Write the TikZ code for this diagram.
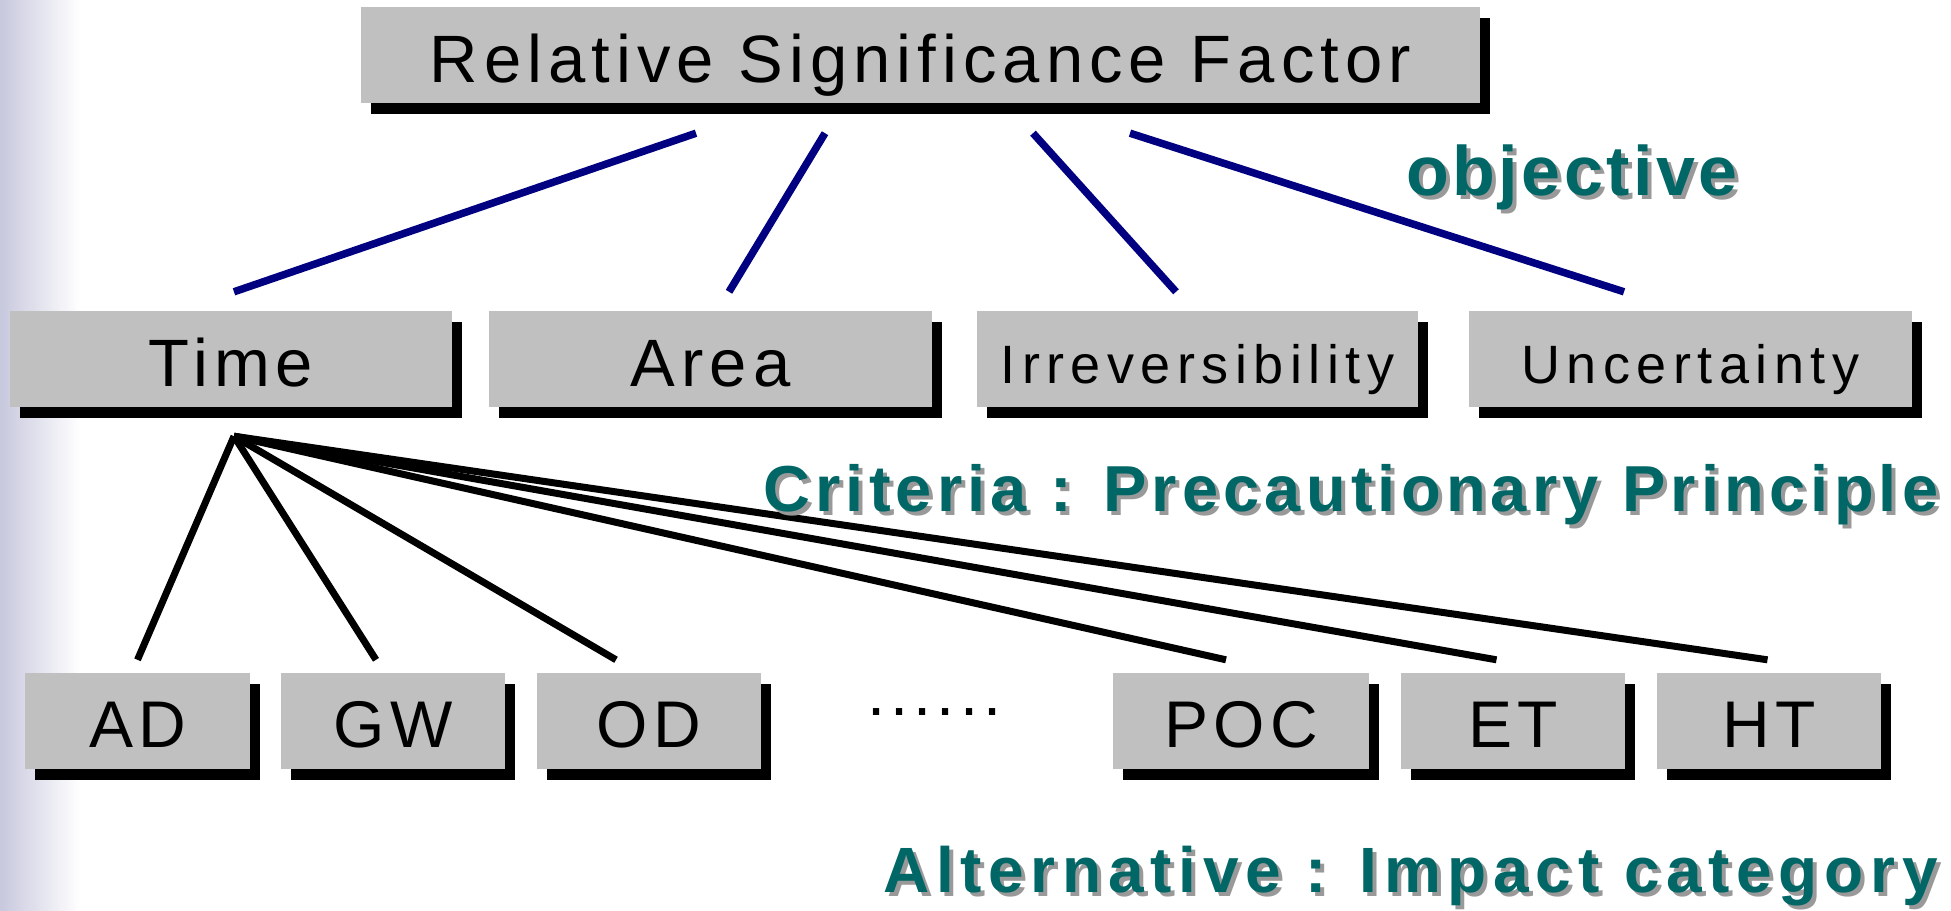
\documentclass[tikz,border=0pt]{standalone}
\usepackage{fontspec}
\usetikzlibrary{shadows}
\newfontfamily\boxfont[LetterSpace=9]{Liberation Sans}
\newfontfamily\boxfontsmall[LetterSpace=12]{Liberation Sans}
\newfontfamily\catfont[LetterSpace=8]{Liberation Sans}
\newfontfamily\objfont[LetterSpace=5]{Liberation Sans}
\newfontfamily\critfont[LetterSpace=8]{Liberation Sans}
\newfontfamily\altfont[LetterSpace=10.5]{Liberation Sans}
\definecolor{boxgray}{RGB}{192,192,192}
\definecolor{navyline}{RGB}{0,0,128}
\definecolor{tealtext}{RGB}{0,102,102}
\definecolor{tealshade}{RGB}{153,153,153}
\definecolor{lavender}{RGB}{200,200,222}
\tikzset{
  box/.style={fill=boxgray, inner sep=0pt, minimum height=96pt, text depth=0pt,
    drop shadow={shadow xshift=10pt, shadow yshift=-11pt, fill=black, opacity=1}},
  bigtext/.style={font=\boxfont\fontsize{67}{72}\selectfont, text height=54pt},
  smalltext/.style={font=\boxfontsmall\fontsize{54}{60}\selectfont, text height=48pt},
  cattext/.style={font=\catfont\fontsize{66}{72}\selectfont, text height=52pt},
  blueline/.style={draw=navyline, line width=7.5pt},
  blackline/.style={draw=black, line width=7pt},
  labeltext/.style={inner sep=0pt, anchor=base west, text=tealtext},
  labelshade/.style={inner sep=0pt, anchor=base west, text=tealshade},
}
\begin{document}
\begin{tikzpicture}[x=1pt,y=-1pt]
\useasboundingbox (0,0) rectangle (1951,910);
\fill[white] (0,0) rectangle (1951,910);
\shade[left color=lavender, right color=white] (0,0) rectangle (80,910);

% top
\node[box, bigtext, minimum width=1119pt] (rsf) at (920.5,55) {Relative Significance Factor};
% criteria
\node[box, bigtext, minimum width=442pt] (time) at (231,359) {Time};
\node[box, bigtext, minimum width=443pt] (area) at (710.5,359) {Area};
\node[box, smalltext, minimum width=441pt] (irr) at (1197.5,359) {Irreversibility};
\node[box, smalltext, minimum width=443pt] (unc) at (1690.5,359) {Uncertainty};
% alternatives
\node[box, cattext, minimum width=225pt] (ad) at (137.5,721) {AD};
\node[box, cattext, minimum width=224pt] (gw) at (393,721) {GW};
\node[box, cattext, minimum width=224pt] (od) at (649,721) {OD};
\node[box, cattext, minimum width=256pt] (poc) at (1241,721) {POC};
\node[box, cattext, minimum width=224pt] (et) at (1513,721) {ET};
\node[box, cattext, minimum width=224pt] (ht) at (1769,721) {HT};
\node[inner sep=0pt, anchor=base west, font=\catfont\fontsize{65}{70}\selectfont] (dots) at (867,715) {......};

% blue connectors
\draw[blueline] ([xshift=-224.5pt,yshift=-30pt]rsf.south) -- ([xshift=3pt,yshift=19pt]time.north);
\draw[blueline] ([xshift=-95.5pt,yshift=-30pt]rsf.south) -- ([xshift=18.5pt,yshift=19pt]area.north);
\draw[blueline] ([xshift=112.5pt,yshift=-30pt]rsf.south) -- ([xshift=-21.5pt,yshift=19pt]irr.north);
\draw[blueline] ([xshift=209.5pt,yshift=-30pt]rsf.south) -- ([xshift=-66.5pt,yshift=19pt]unc.north);

% black connectors
\coordinate (apex) at ([xshift=3pt,yshift=-29pt]time.south);
\draw[blackline] (apex) -- ([xshift=0pt,yshift=13pt]ad.north);
\draw[blackline] (apex) -- ([xshift=-17pt,yshift=13pt]gw.north);
\draw[blackline] (apex) -- ([xshift=-33pt,yshift=13pt]od.north);
\draw[blackline] (apex) -- ([xshift=-15pt,yshift=13pt]poc.north);
\draw[blackline] (apex) -- ([xshift=-16.5pt,yshift=13pt]et.north);
\draw[blackline] (apex) -- ([xshift=-1.5pt,yshift=13pt]ht.north);

% teal labels with shadow
\node[labelshade, font=\objfont\bfseries\fontsize{70}{80}\selectfont] (objS) at (1410,199) {objective};
\node[labeltext, font=\objfont\bfseries\fontsize{70}{80}\selectfont] (obj) at (1406,195) {objective};
\node[labelshade, font=\critfont\bfseries\fontsize{65}{75}\selectfont] (critS) at (767,515) {Criteria : Precautionary Principle};
\node[labeltext, font=\critfont\bfseries\fontsize{65}{75}\selectfont] (crit) at (763,511) {Criteria : Precautionary Principle};
\node[labelshade, font=\altfont\bfseries\fontsize{64}{75}\selectfont] (altS) at (887,896) {Alternative : Impact category};
\node[labeltext, font=\altfont\bfseries\fontsize{64}{75}\selectfont] (alt) at (883,892) {Alternative : Impact category};
\end{tikzpicture}
\end{document}
